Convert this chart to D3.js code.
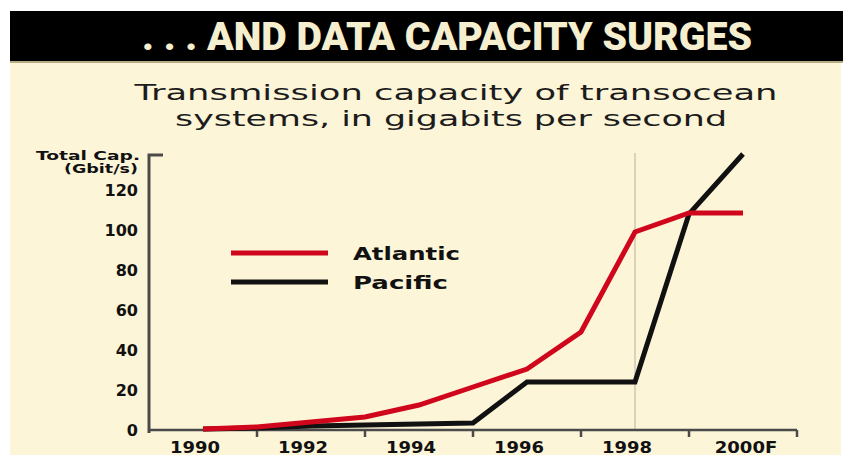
<!DOCTYPE html>
<html>
<head>
<meta charset="utf-8">
<script src="https://cdn.jsdelivr.net/npm/d3@7"></script>
<style>
  html, body { margin: 0; padding: 0; background: #ffffff; }
  svg { display: block; }
</style>
</head>
<body>
<svg id="chart" width="843" height="461"></svg>
<script>
// Transmission capacity of transocean systems (Gbit/s)
const years = [1990, 1991, 1992, 1993, 1994, 1995, 1996, 1997, 1998, 1999, 2000];
const atlantic = [0.5, 1.5, 4, 6.5, 12.5, 21.5, 30.5, 49, 99, 108.5, 108.5];
const pacific = [0.5, 1, 2, 2.5, 3, 3.5, 24, 24, 24, 108, 138];
const seriesNames = ["Atlantic", "Pacific"];
const seriesColors = ["#d0061c", "#111111"];
const yTicks = [0, 20, 40, 60, 80, 100, 120];
const xLabelYears = [1990, 1992, 1994, 1996, 1998, 2000];
const xLabels = ["1990", "1992", "1994", "1996", "1998", "2000F"];
const xTickYears = [1991, 1993, 1995, 1997, 1999, 2001];
const markerYear = 1998;
const yAxisTop = 137.5;

const svg = d3.select("#chart");
const W = 843, H = 461;
const cream = "#fdf5d8";
const heavy = "'DejaVu Sans', 'Liberation Sans', sans-serif";

// panel background
svg.append("rect").attr("x", 10).attr("y", 11).attr("width", W - 12).attr("height", 444)
  .attr("fill", cream);

// headline bar
svg.append("rect").attr("x", 10).attr("y", 11).attr("width", W - 10).attr("height", 50)
  .attr("fill", "#000");
svg.append("rect").attr("x", 10).attr("y", 61).attr("width", W - 10).attr("height", 2)
  .attr("fill", "#b9aa86");
svg.append("text")
  .attr("x", 142).attr("y", 50)
  .attr("textLength", 610).attr("lengthAdjust", "spacingAndGlyphs")
  .attr("font-family", "'Liberation Sans Narrow', Roboto, 'Liberation Sans', sans-serif")
  .attr("font-weight", 900).attr("font-size", 38)
  .attr("fill", "#f6efcf")
  .text(". . . AND DATA CAPACITY SURGES");

// subtitle
const sub = svg.append("g")
  .attr("font-family", "'DejaVu Sans', sans-serif")
  .attr("font-size", 22).attr("fill", "#1c1c1c").attr("text-anchor", "middle");
sub.append("text").attr("x", 456).attr("y", 100)
  .attr("textLength", 643).attr("lengthAdjust", "spacingAndGlyphs")
  .text("Transmission capacity of transocean");
sub.append("text").attr("x", 451).attr("y", 126)
  .attr("textLength", 552).attr("lengthAdjust", "spacingAndGlyphs")
  .text("systems, in gigabits per second");

// scales
const x = d3.scaleLinear().domain([1989, 2001]).range([149, 797]);
const y = d3.scaleLinear().domain([0, 140]).range([430, 150]);

// forecast divider at 1998
svg.append("line")
  .attr("x1", x(markerYear)).attr("x2", x(markerYear))
  .attr("y1", y(yAxisTop) - 2).attr("y2", y(0))
  .attr("stroke", "#cfc5b3").attr("stroke-width", 1.5);

// y axis
const yAxis = d3.axisLeft(y).tickValues(yTicks).tickSize(0).tickPadding(11);
const gy = svg.append("g").attr("transform", "translate(149,0)").call(yAxis);
gy.select(".domain").remove();
gy.selectAll("text")
  .attr("font-family", heavy).attr("font-weight", "bold")
  .attr("font-size", 16).attr("fill", "#111")
  .attr("dy", "0.36em");
svg.append("path")
  .attr("d", `M163,${y(yAxisTop)}H149V${y(0) + 3}`)
  .attr("fill", "none").attr("stroke", "#4a4a4a").attr("stroke-width", 3);

// y axis title
const yt = svg.append("g").attr("font-family", heavy).attr("font-weight", "bold")
  .attr("font-size", 12).attr("fill", "#111").attr("text-anchor", "end");
yt.append("text").attr("x", 140).attr("y", 160)
  .attr("textLength", 104).attr("lengthAdjust", "spacingAndGlyphs").text("Total Cap.");
yt.append("text").attr("x", 138).attr("y", 173)
  .attr("textLength", 74).attr("lengthAdjust", "spacingAndGlyphs").text("(Gbit/s)");

// x axis
svg.append("line").attr("x1", 149).attr("x2", x(2001))
  .attr("y1", y(0)).attr("y2", y(0))
  .attr("stroke", "#4a4a4a").attr("stroke-width", 2.5);
svg.append("g").selectAll("line").data(xTickYears).join("line")
  .attr("x1", d => x(d)).attr("x2", d => x(d))
  .attr("y1", y(0)).attr("y2", y(0) + 7)
  .attr("stroke", "#4a4a4a").attr("stroke-width", 2.5);
svg.append("g").selectAll("text").data(xLabelYears).join("text")
  .attr("x", (d, i) => x(d) - (i === xLabels.length - 1 ? -3 : 8))
  .attr("y", 453)
  .attr("text-anchor", "middle")
  .attr("font-family", heavy).attr("font-weight", "bold")
  .attr("font-size", 15).attr("fill", "#111")
  .attr("textLength", (d, i) => xLabels[i].length * 12.5)
  .attr("lengthAdjust", "spacingAndGlyphs")
  .text((d, i) => xLabels[i]);

// series lines
const line = d3.line().x(d => x(d[0])).y(d => y(d[1]));
const series = [atlantic, pacific];
// Pacific drawn first so the Atlantic line sits on top at the low end
[1, 0].forEach(k => {
  svg.append("path")
    .datum(years.map((yr, i) => [yr, series[k][i]]))
    .attr("d", line)
    .attr("fill", "none")
    .attr("stroke", seriesColors[k])
    .attr("stroke-width", 5)
    .attr("stroke-linejoin", "miter")
    .attr("stroke-linecap", "butt");
});

// legend
const lg = svg.append("g");
seriesNames.forEach((name, i) => {
  const ly = 253 + i * 29;
  lg.append("line").attr("x1", 231).attr("x2", 328).attr("y1", ly).attr("y2", ly)
    .attr("stroke", seriesColors[i]).attr("stroke-width", 5);
  lg.append("text").attr("x", 353).attr("y", ly + 7)
    .attr("font-family", heavy).attr("font-weight", "bold")
    .attr("font-size", 18).attr("fill", "#111")
    .attr("textLength", i === 0 ? 107 : 95).attr("lengthAdjust", "spacingAndGlyphs")
    .text(name);
});
</script>
</body>
</html>
